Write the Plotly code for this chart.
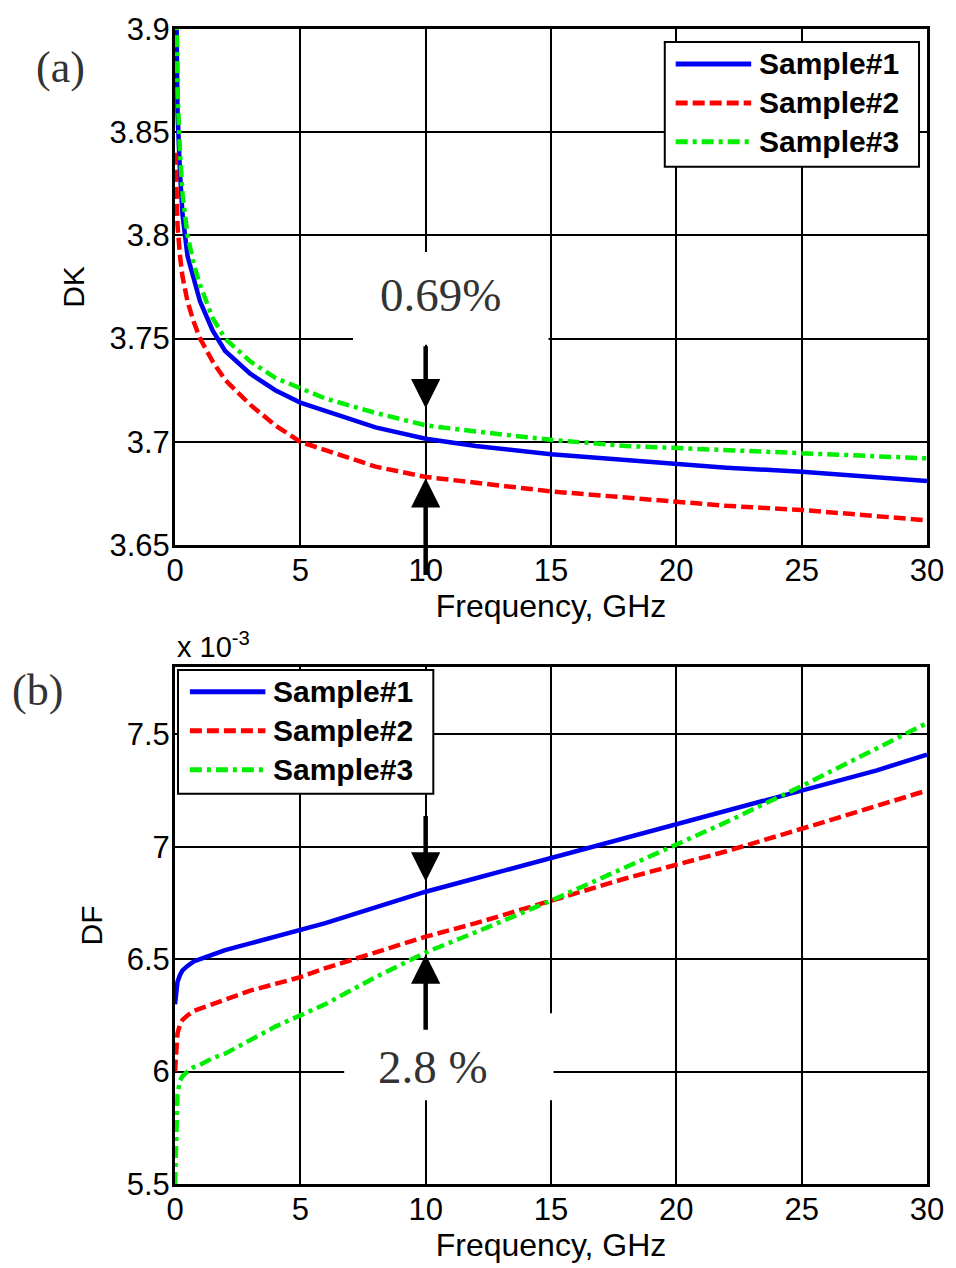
import plotly.graph_objects as go

# ---------------- data ----------------
freq_dk = [0.02, 0.05, 0.1, 0.2, 0.3, 0.5, 0.75, 1, 1.5, 2, 3, 4, 5, 6, 8, 10,
           12, 15, 18, 20, 22, 25, 28, 30]
dk_s1 = [3.95, 3.90, 3.86, 3.83, 3.81, 3.79, 3.778, 3.768, 3.754, 3.744, 3.733,
         3.725, 3.719, 3.715, 3.707, 3.7015, 3.698, 3.694, 3.691, 3.689, 3.6875,
         3.6855, 3.683, 3.681]
dk_s2 = [3.84, 3.82, 3.805, 3.79, 3.78, 3.768, 3.758, 3.750, 3.739, 3.730, 3.718,
         3.708, 3.700, 3.696, 3.688, 3.683, 3.680, 3.676, 3.673, 3.671, 3.669,
         3.667, 3.664, 3.662]
dk_s3 = [3.96, 3.91, 3.87, 3.84, 3.82, 3.80, 3.786, 3.776, 3.760, 3.750, 3.739,
         3.731, 3.726, 3.721, 3.714, 3.708, 3.705, 3.701, 3.698, 3.697, 3.6955,
         3.694, 3.6925, 3.692]

freq_df = [0, 0.05, 0.1, 0.2, 0.3, 0.5, 0.75, 1, 1.5, 2, 3, 4, 5, 6, 8, 10,
           12, 15, 18, 20, 22, 25, 28, 30]
# DF values in units of 1e-3
df_s1 = [6.30, 6.36, 6.40, 6.43, 6.45, 6.47, 6.49, 6.50, 6.52, 6.54, 6.57, 6.60,
         6.63, 6.66, 6.73, 6.80, 6.86, 6.95, 7.04, 7.10, 7.16, 7.25, 7.34, 7.41]
df_s2 = [6.00, 6.12, 6.17, 6.21, 6.23, 6.25, 6.27, 6.28, 6.30, 6.32, 6.36, 6.39,
         6.42, 6.46, 6.53, 6.60, 6.66, 6.76, 6.86, 6.92, 6.98, 7.08, 7.18, 7.25]
df_s3 = [5.50, 5.80, 5.90, 5.96, 5.98, 6.00, 6.02, 6.03, 6.06, 6.08, 6.14, 6.20,
         6.25, 6.30, 6.42, 6.53, 6.62, 6.76, 6.91, 7.01, 7.11, 7.27, 7.44, 7.55]

series_names = ["Sample#1", "Sample#2", "Sample#3"]
x_ticks = [0, 5, 10, 15, 20, 25, 30]
dk_ticks = [3.65, 3.7, 3.75, 3.8, 3.85, 3.9]
dk_ticktext = ["3.65", "3.7", "3.75", "3.8", "3.85", "3.9"]
df_ticks = [5.5, 6, 6.5, 7, 7.5]
df_ticktext = ["5.5", "6", "6.5", "7", "7.5"]

# annotation values (arrows at 10 GHz)
dk_arrow = {"f": 10, "top_tip": 3.7163, "top_tail": 3.747, "bot_tip": 3.6824, "bot_tail": 3.6348}
df_arrow = {"f": 10, "top_tip": 6.846, "top_tail": 7.144, "bot_tip": 6.521, "bot_tail": 6.179}

# ---------------- styles ----------------
styles = [
    dict(color="#0000f0", width=4.5, dash="solid"),
    dict(color="#ff0000", width=4.5, dash="12px,5px"),
    dict(color="#00ee00", width=4.5, dash="12px,5px,4px,5px"),
]
SANS = "Liberation Sans, Arial, sans-serif"
SERIF = "Liberation Serif, Times New Roman, serif"

fig = go.Figure()
for name, ys, st in zip(series_names, [dk_s1, dk_s2, dk_s3], styles):
    fig.add_trace(go.Scatter(x=freq_dk, y=ys, mode="lines", name=name, line=st,
                             xaxis="x", yaxis="y", showlegend=False))
for name, ys, st in zip(series_names, [df_s1, df_s2, df_s3], styles):
    fig.add_trace(go.Scatter(x=freq_df, y=ys, mode="lines", name=name, line=st,
                             xaxis="x2", yaxis="y2", showlegend=False))

axis_common = dict(showgrid=True, gridcolor="black", gridwidth=2, showline=True,
                   mirror=True, linecolor="black", linewidth=3, zeroline=False,
                   ticks="", tickfont=dict(family=SANS, size=31, color="black"),
                   ticklabelstandoff=-4)
xtitle = dict(text="Frequency, GHz", font=dict(family=SANS, size=32, color="black"), standoff=1)

fig.update_layout(
    width=956, height=1268,
    margin=dict(l=175, r=24, t=27, b=84),
    paper_bgcolor="white", plot_bgcolor="white",
    showlegend=False,
    xaxis=dict(domain=[0, 1], anchor="y", range=[0, 30], tickvals=x_ticks,
               title=xtitle, **axis_common),
    yaxis=dict(domain=[0.5532, 1], anchor="x", range=[3.65, 3.9], tickvals=dk_ticks,
               ticktext=dk_ticktext,
               title=dict(text="DK", font=dict(family=SANS, size=30, color="black"), standoff=16),
               **axis_common),
    xaxis2=dict(domain=[0, 1], anchor="y2", range=[0, 30], tickvals=x_ticks,
                title=xtitle, **axis_common),
    yaxis2=dict(domain=[0, 0.4477], anchor="x2", range=[5.5, 7.8], tickvals=df_ticks,
                ticktext=df_ticktext,
                title=dict(text="DF", font=dict(family=SANS, size=30, color="black"), standoff=16),
                **axis_common),
)

# white boxes behind the percentage labels (cover gridlines, under traces)
fig.add_shape(type="rect", xref="x", yref="y", x0=7.1, x1=14.9, y0=3.747, y1=3.792,
              fillcolor="white", line=dict(width=0), layer="between")
fig.add_shape(type="rect", xref="x2", yref="y2", x0=6.75, x1=15.1, y0=5.872, y1=6.259,
              fillcolor="white", line=dict(width=0), layer="between")

# ---------------- legends (MATLAB-style, long line samples) ----------------
legend_boxes = [
    dict(box=(0.6513, 0.8807, 0.9894, 0.9888), line_x=(0.6658, 0.7662), text_x=0.7741,
         rows=[0.9697, 0.9360, 0.9023]),
    dict(box=(0.0040, 0.3379, 0.3435, 0.4451), line_x=(0.0198, 0.1202), text_x=0.1281,
         rows=[0.4261, 0.3924, 0.3587]),
]
for lg in legend_boxes:
    bx0, by0, bx1, by1 = lg["box"]
    fig.add_shape(type="rect", xref="paper", yref="paper", x0=bx0, y0=by0, x1=bx1, y1=by1,
                  fillcolor="white", line=dict(color="black", width=2), layer="above")
    for name, st, ry in zip(series_names, styles, lg["rows"]):
        fig.add_shape(type="line", xref="paper", yref="paper", x0=lg["line_x"][0],
                      x1=lg["line_x"][1], y0=ry, y1=ry, layer="above",
                      line=dict(color=st["color"], width=5, dash=st["dash"]))
        fig.add_annotation(x=lg["text_x"], y=ry, xref="paper", yref="paper", text=name,
                           xanchor="left", yanchor="middle", showarrow=False,
                           font=dict(family=SANS, size=30, color="black", weight="bold"))

arrow_kw = dict(text="", showarrow=True, arrowhead=2, arrowsize=1.3, arrowwidth=4.5,
                arrowcolor="black", standoff=0, startstandoff=0)
for xr, yr, a in [("x", "y", dk_arrow), ("x2", "y2", df_arrow)]:
    fig.add_annotation(x=a["f"], y=a["top_tip"], ax=a["f"], ay=a["top_tail"],
                       xref=xr, yref=yr, axref=xr, ayref=yr, **arrow_kw)
    fig.add_annotation(x=a["f"], y=a["bot_tip"], ax=a["f"], ay=a["bot_tail"],
                       xref=xr, yref=yr, axref=xr, ayref=yr, **arrow_kw)

fig.add_annotation(x=10.6, y=3.771, xref="x", yref="y", text="0.69%", showarrow=False,
                   font=dict(family=SERIF, size=47, color="#333333"))
fig.add_annotation(x=10.3, y=6.022, xref="x2", yref="y2", text="2.8 %", showarrow=False,
                   font=dict(family=SERIF, size=47, color="#333333"))
fig.add_annotation(x=-0.152, y=0.967, xref="paper", yref="paper", text="(a)", showarrow=False,
                   xanchor="center", yanchor="middle",
                   font=dict(family=SERIF, size=44, color="#333333"))
fig.add_annotation(x=-0.183, y=0.427, xref="paper", yref="paper", text="(b)", showarrow=False,
                   xanchor="center", yanchor="middle",
                   font=dict(family=SERIF, size=44, color="#333333"))
fig.add_annotation(x=0.0, y=0.4665, xref="paper", yref="paper", xanchor="left", yanchor="middle",
                   text="x 10<sup>-3</sup>", showarrow=False,
                   font=dict(family=SANS, size=29, color="black"))

fig.write_html("out.html")
